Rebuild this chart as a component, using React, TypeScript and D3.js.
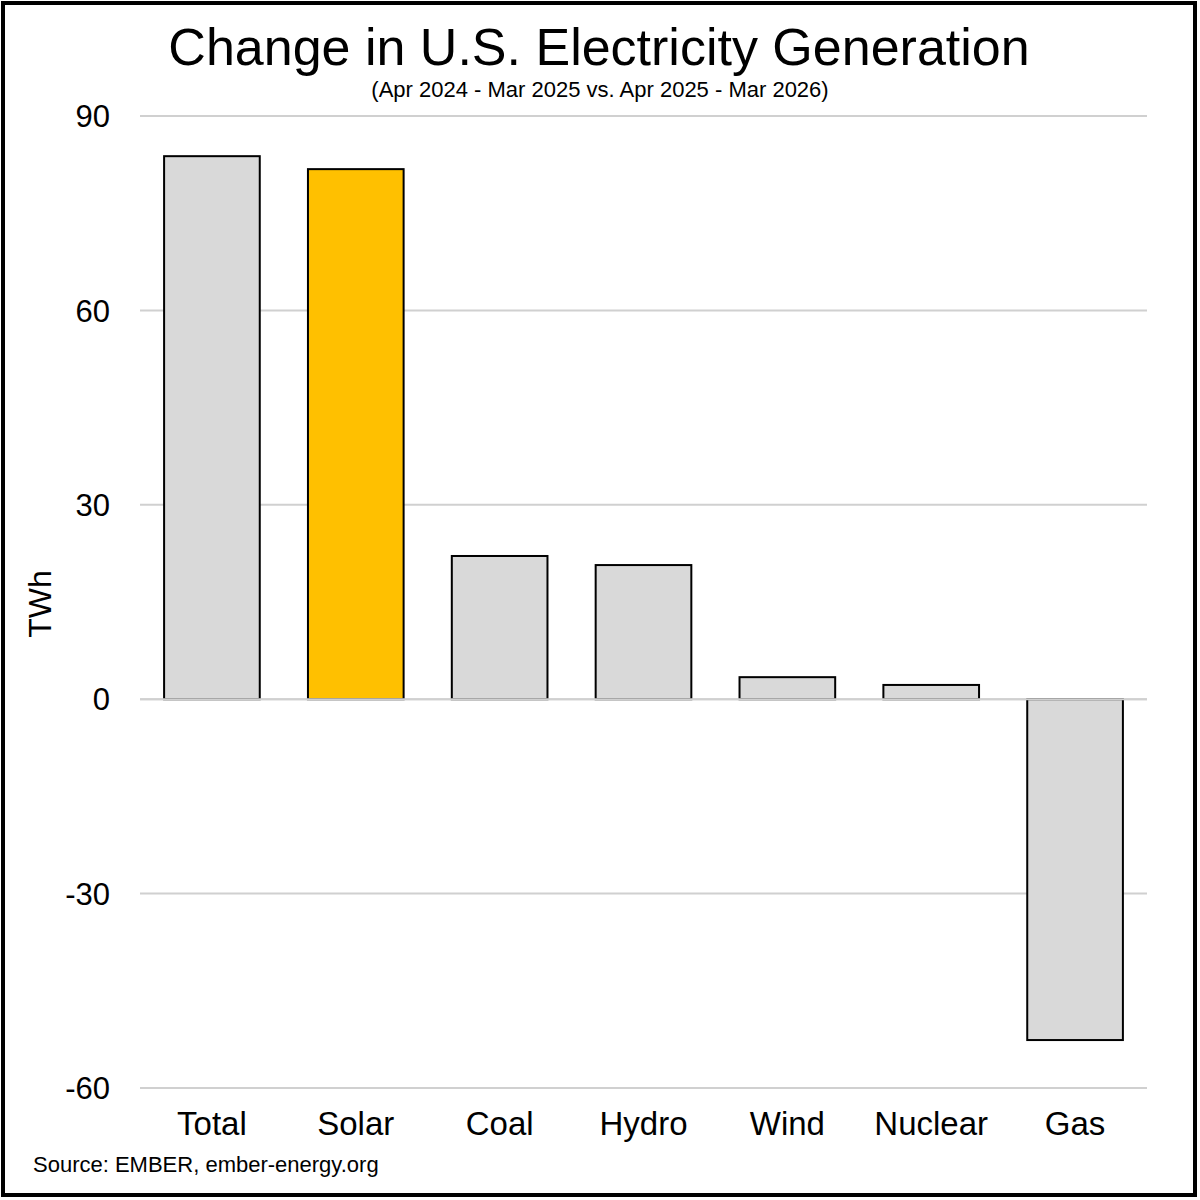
import React from "react";
import * as d3 from "d3";

const categories = ["Total", "Solar", "Coal", "Hydro", "Wind", "Nuclear", "Gas"];
const values = [83.8, 81.8, 22.1, 20.7, 3.4, 2.2, -52.6];
const barColors = ["#d9d9d9", "#ffc000", "#d9d9d9", "#d9d9d9", "#d9d9d9", "#d9d9d9", "#d9d9d9"];
const yTicks = [90, 60, 30, 0, -30, -60];
const titleText = "Change in U.S. Electricity Generation";
const subtitleText = "(Apr 2024 - Mar 2025 vs. Apr 2025 - Mar 2026)";
const yAxisTitle = "TWh";
const sourceText = "Source: EMBER, ember-energy.org";

const W = 1200;
const H = 1200;
const FONT = "'Liberation Sans', Arial, sans-serif";

export default function App() {
  const plotLeft = 140;
  const plotRight = 1147;
  const y = d3.scaleLinear().domain([-60, 90]).range([1088, 116]);
  const x = d3
    .scaleBand<string>()
    .domain(categories)
    .range([plotLeft, plotRight])
    .paddingInner(0.335)
    .paddingOuter(0.1675);
  const y0 = y(0);

  return (
    <svg
      width={W}
      height={H}
      viewBox={`0 0 ${W} ${H}`}
      style={{ position: "absolute", left: 0, top: 0, display: "block", background: "#fff" }}
      fontFamily={FONT}
    >
      <rect x={0} y={0} width={W} height={H} fill="#fff" />
      {yTicks.map((t) => (
        <line
          key={t}
          x1={plotLeft}
          x2={plotRight}
          y1={y(t)}
          y2={y(t)}
          stroke="#d0d0d0"
          strokeWidth={2}
        />
      ))}
      {yTicks.map((t) => (
        <text
          key={"l" + t}
          x={110}
          y={y(t)}
          dy="0.36em"
          textAnchor="end"
          fontSize={31}
          fill="#000"
        >
          {t}
        </text>
      ))}
      {categories.map((c, i) => {
        const v = values[i];
        const top = y(Math.max(0, v));
        const bot = y(Math.min(0, v));
        return (
          <rect
            key={c}
            x={x(c)!}
            y={top}
            width={x.bandwidth()}
            height={bot - top}
            fill={barColors[i]}
            stroke="#000"
            strokeWidth={2}
          />
        );
      })}
      <line x1={plotLeft} x2={plotRight} y1={y0} y2={y0} stroke="#d0d0d0" strokeWidth={2} />
      {categories.map((c) => (
        <text
          key={"c" + c}
          x={x(c)! + x.bandwidth() / 2}
          y={1135}
          textAnchor="middle"
          fontSize={33}
          fill="#000"
        >
          {c}
        </text>
      ))}
      <text
        transform={`translate(51, 604) rotate(-90)`}
        textAnchor="middle"
        fontSize={32}
        fill="#000"
      >
        {yAxisTitle}
      </text>
      <text x={599} y={65} textAnchor="middle" fontSize={52} fill="#000">
        {titleText}
      </text>
      <text x={600} y={97} textAnchor="middle" fontSize={22} fill="#000">
        {subtitleText}
      </text>
      <text x={33} y={1172} fontSize={22} fill="#000">
        {sourceText}
      </text>
      <rect x={3} y={3} width={1192} height={1192} fill="none" stroke="#000" strokeWidth={4} />
    </svg>
  );
}
